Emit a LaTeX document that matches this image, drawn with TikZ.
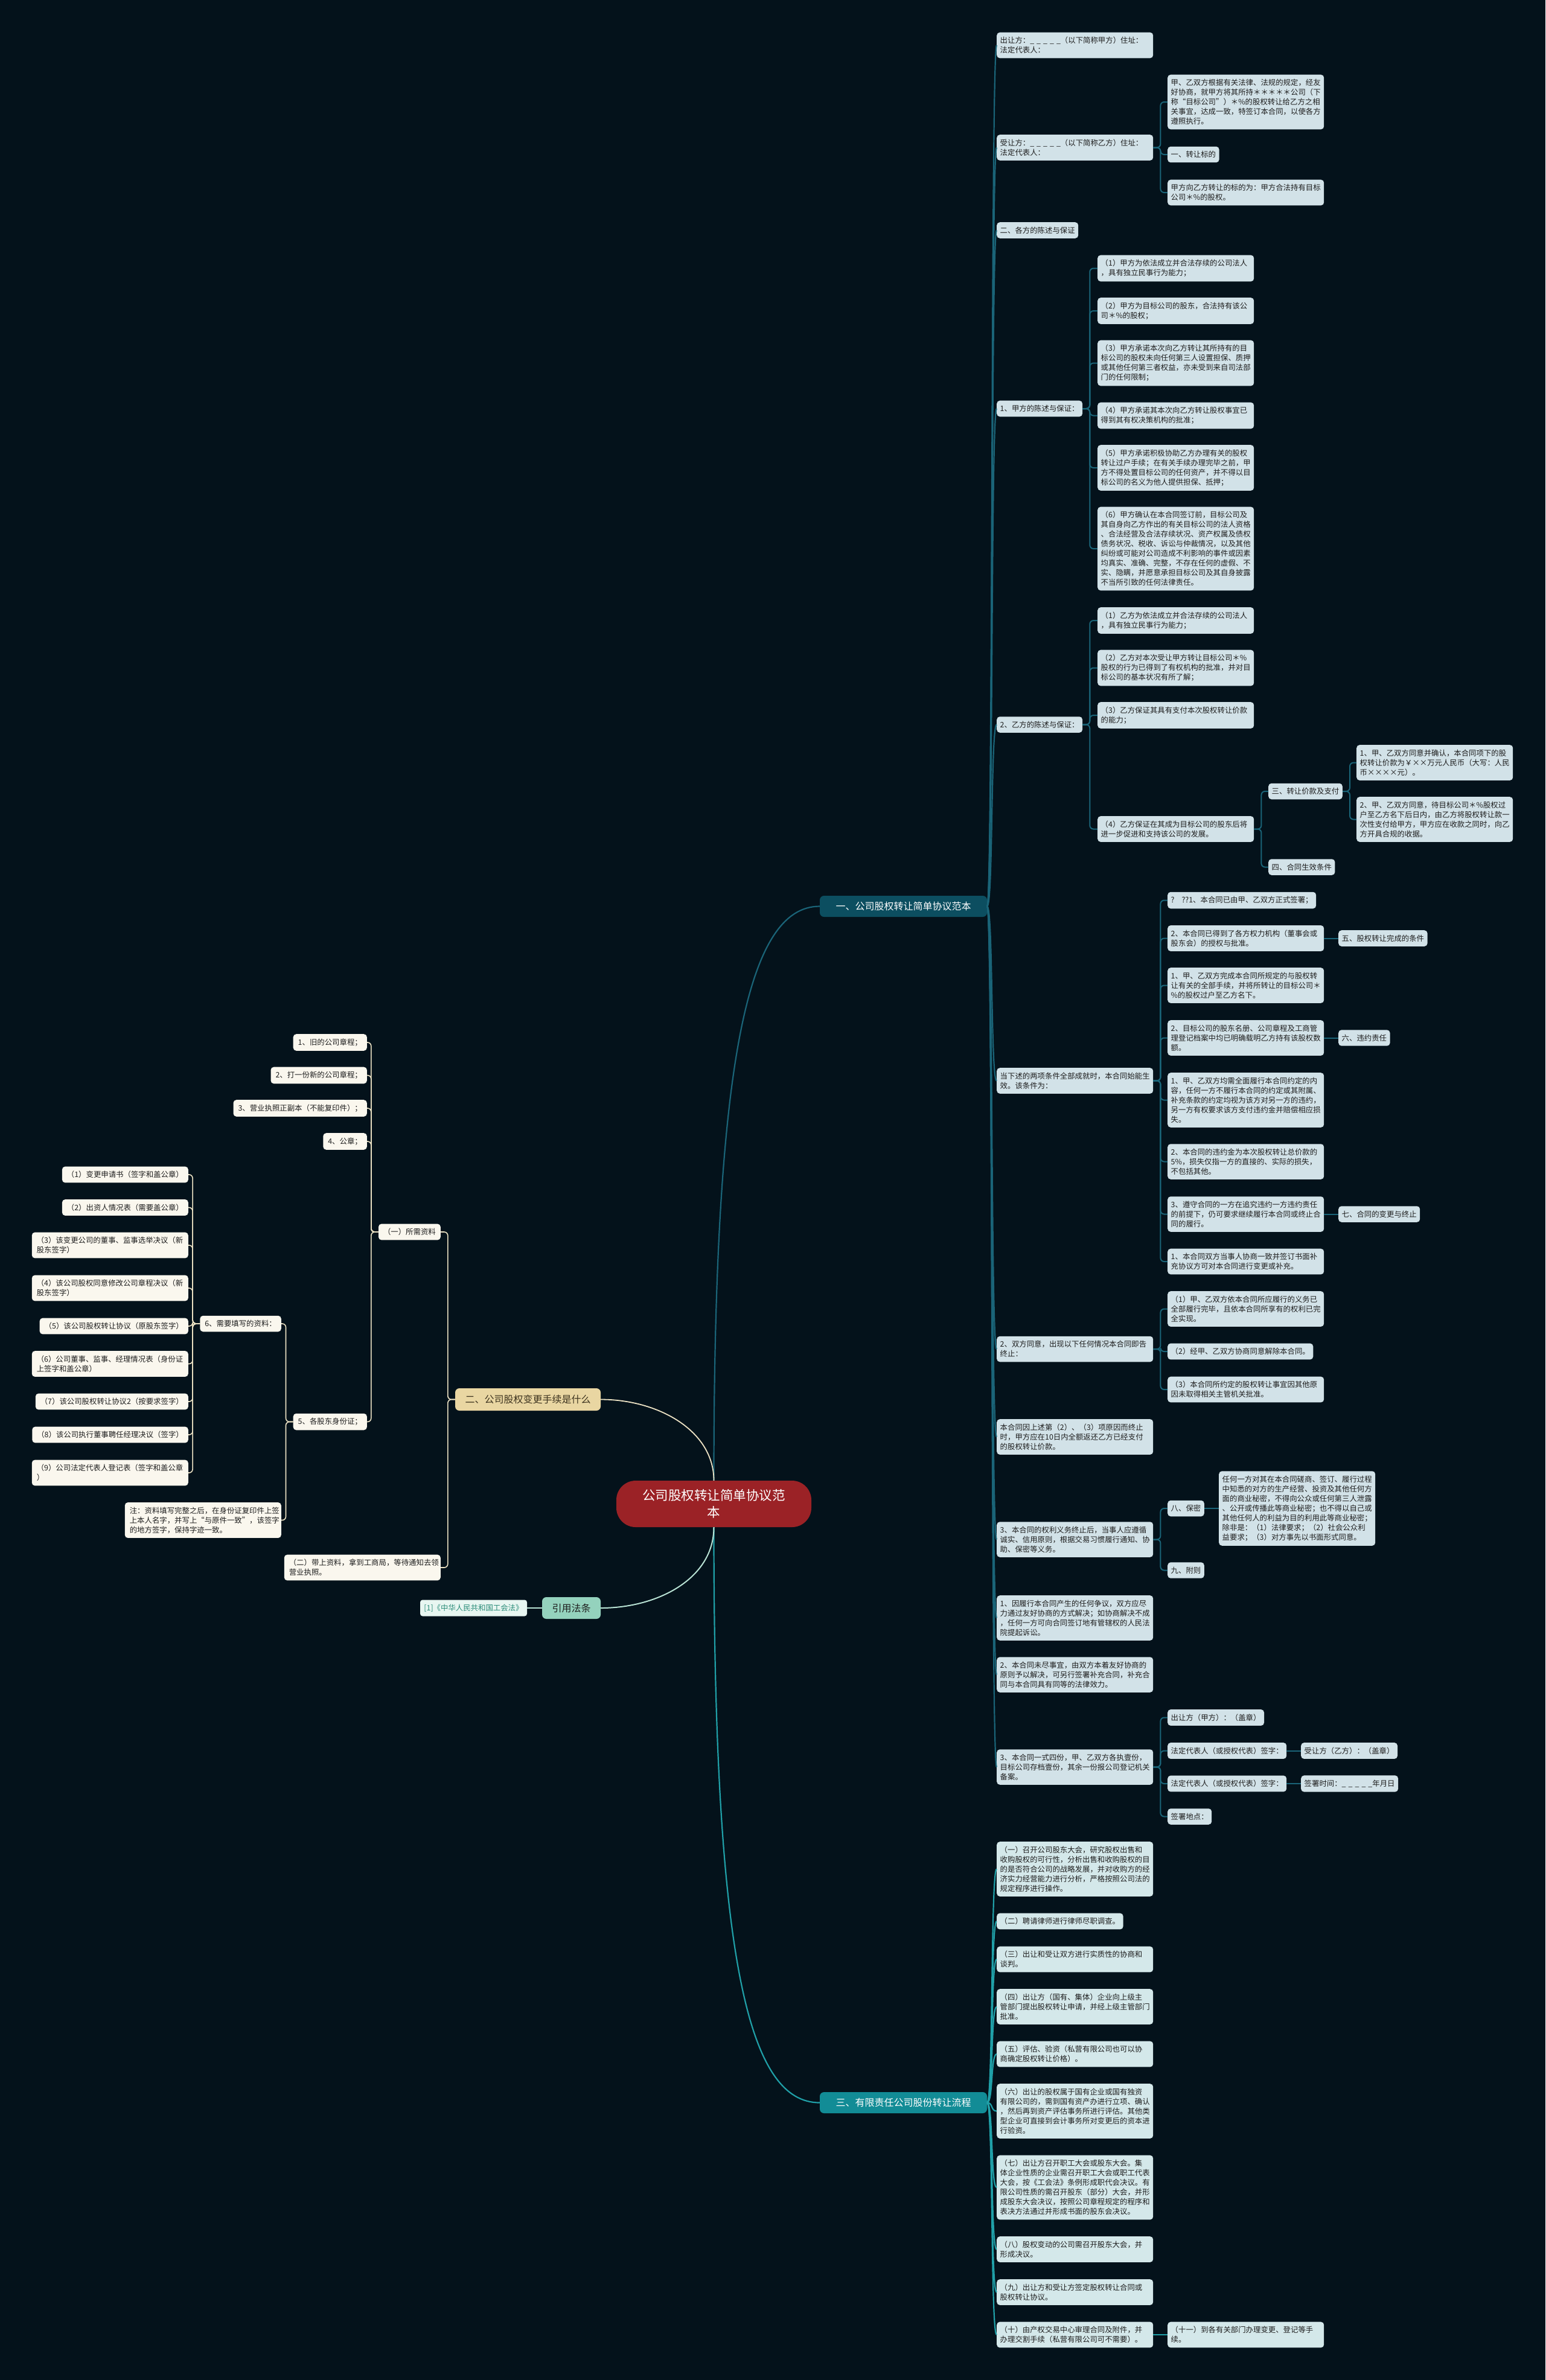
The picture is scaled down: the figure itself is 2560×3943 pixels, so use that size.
\documentclass[tikz,border=0pt]{standalone}
\usepackage{fontspec}
\setmainfont{Noto Sans CJK SC}
\definecolor{bgdark}{RGB}{4,18,27}
\definecolor{tealdark}{RGB}{12,78,96}
\definecolor{tealline}{RGB}{26,100,120}
\definecolor{cyanline}{RGB}{32,160,168}
\definecolor{cyanmain}{RGB}{18,140,150}
\definecolor{boxblue}{RGB}{210,226,232}
\definecolor{boxcyan}{RGB}{212,232,234}
\definecolor{tanmain}{RGB}{233,214,162}
\definecolor{tantext}{RGB}{60,50,30}
\definecolor{creambox}{RGB}{250,247,238}
\definecolor{creamline}{RGB}{236,226,196}
\definecolor{rootred}{RGB}{155,34,38}
\definecolor{mintmain}{RGB}{148,210,189}
\definecolor{mintbox}{RGB}{232,246,241}
\definecolor{mintline}{RGB}{184,226,212}
\definecolor{citetext}{RGB}{42,140,120}
\definecolor{inkdark}{RGB}{30,30,30}
\newcommand{\blank}{\_\kern4pt\_\kern4pt\_\kern4pt\_\kern4pt\_}

\begin{document}
\begin{tikzpicture}[x=1pt,y=-1pt,
  every node/.style={font=\fontsize{12.4}{16}\selectfont,text=inkdark},
  rbox/.style={fill=boxblue,rounded corners=5pt,inner xsep=5.5pt,inner ysep=7.5pt,anchor=west,align=left},
  rwide/.style={rbox,text width=248pt},
  cwide/.style={rbox,fill=boxcyan,text width=248pt},
  cbox/.style={rbox,fill=boxcyan},
  lbox/.style={fill=creambox,rounded corners=5pt,inner xsep=8pt,inner ysep=7.5pt,anchor=east,align=left},
  lwide/.style={lbox,text width=243pt},
  mainbox/.style={rounded corners=7pt,inner sep=0pt,font=\fontsize{16}{20}\selectfont},
  curve1/.style={draw=tealline,line width=2.2pt},
  curve3/.style={draw=cyanline,line width=2.2pt},
  curve2/.style={draw=creamline,line width=1.8pt},
  curve4/.style={draw=mintline,line width=2pt},
  elbow1/.style={draw=tealline,line width=2pt,rounded corners=6pt},
  elbow2/.style={draw=creamline,line width=1.6pt,rounded corners=6pt}]
\useasboundingbox (0,0) rectangle (2560,3943);
\fill[bgdark] (0,0) rectangle (2560,3943);
% centre and main branches
\node[fill=rootred,rounded corners=32pt,minimum width=323pt,minimum height=77pt,align=center,text=white,font=\fontsize{21.5}{28}\selectfont] (root) at (1182.5,2491.5) {公司股权转让简单协议范\\本};
\node[mainbox,fill=tealdark,text=white,minimum width=277pt,minimum height=35pt] (br1) at (1496.5,1501.5) {一、公司股权转让简单协议范本};
\node[mainbox,fill=tanmain,text=tantext,minimum width=241pt,minimum height=37pt] (br2) at (874.5,2318.5) {二、公司股权变更手续是什么};
\node[mainbox,fill=cyanmain,text=white,minimum width=277pt,minimum height=35pt] (br3) at (1496.5,3483.5) {三、有限责任公司股份转让流程};
\node[mainbox,fill=mintmain,text=inkdark,minimum width=97pt,minimum height=36pt] (br4) at (946.5,2664) {引用法条};
\node[fill=mintbox,text=citetext,rounded corners=4pt,minimum width=177pt,minimum height=27pt,inner sep=0pt] (cite) at (784.5,2664) {[1]《中华人民共和国工会法》};

% branch one: contract text
\node[rwide] (u1) at (1651,75) {出让方：\blank（以下简称甲方）住址：\\法定代表人：};
\node[rwide] (u2) at (1651,244.5) {受让方：\blank（以下简称乙方）住址：\\法定代表人：};
\node[rbox] (u3) at (1651,381.5) {二、各方的陈述与保证};
\node[rbox] (u4) at (1651,677) {1、甲方的陈述与保证：};
\node[rbox] (u5) at (1651,1200.5) {2、乙方的陈述与保证：};
\node[rwide] (u6) at (1651,1790.5) {当下述的两项条件全部成就时，本合同始能生\\效。该条件为：};
\node[rwide] (u7) at (1651,2235) {2、双方同意，出现以下任何情况本合同即告\\终止：};
\node[rwide] (u8) at (1651,2380.5) {本合同因上述第（2）、（3）项原因而终止\\时，甲方应在10日内全额返还乙方已经支付\\的股权转让价款。};
\node[rwide] (u9) at (1651,2550.5) {3、本合同的权利义务终止后，当事人应遵循\\诚实、信用原则，根据交易习惯履行通知、协\\助、保密等义务。};
\node[rwide] (u10) at (1651,2680.5) {1、因履行本合同产生的任何争议，双方应尽\\力通过友好协商的方式解决；如协商解决不成\\，任何一方可向合同签订地有管辖权的人民法\\院提起诉讼。};
\node[rwide] (u11) at (1651,2774.5) {2、本合同未尽事宜，由双方本着友好协商的\\原则予以解决，可另行签署补充合同，补充合\\同与本合同具有同等的法律效力。};
\node[rwide] (u12) at (1651,2927.5) {3、本合同一式四份，甲、乙双方各执壹份，\\目标公司存档壹份，其余一份报公司登记机关\\备案。};

\node[rwide] (a1) at (1934,169) {甲、乙双方根据有关法律、法规的规定，经友\\好协商，就甲方将其所持＊＊＊＊＊公司（下\\称“目标公司”）＊\%的股权转让给乙方之相\\关事宜，达成一致，特签订本合同，以使各方\\遵照执行。};
\node[rbox] (a2) at (1934,256) {一、转让标的};
\node[rwide] (a3) at (1934,319) {甲方向乙方转让的标的为：甲方合法持有目标\\公司＊\%的股权。};

\node[rwide] (j1) at (1818,444.5) {（1）甲方为依法成立并合法存续的公司法人\\，具有独立民事行为能力；};
\node[rwide] (j2) at (1818,515) {（2）甲方为目标公司的股东，合法持有该公\\司＊\%的股权；};
\node[rwide] (j3) at (1818,601.5) {（3）甲方承诺本次向乙方转让其所持有的目\\标公司的股权未向任何第三人设置担保、质押\\或其他任何第三者权益，亦未受到来自司法部\\门的任何限制；};
\node[rwide] (j4) at (1818,688.5) {（4）甲方承诺其本次向乙方转让股权事宜已\\得到其有权决策机构的批准；};
\node[rwide] (j5) at (1818,775) {（5）甲方承诺积极协助乙方办理有关的股权\\转让过户手续；在有关手续办理完毕之前，甲\\方不得处置目标公司的任何资产，并不得以目\\标公司的名义为他人提供担保、抵押；};
\node[rwide] (j6) at (1818,909) {（6）甲方确认在本合同签订前，目标公司及\\其自身向乙方作出的有关目标公司的法人资格\\、合法经营及合法存续状况、资产权属及债权\\债务状况、税收、诉讼与仲裁情况，以及其他\\纠纷或可能对公司造成不利影响的事件或因素\\均真实、准确、完整，不存在任何的虚假、不\\实、隐瞒，并愿意承担目标公司及其自身披露\\不当所引致的任何法律责任。};

\node[rwide] (y1) at (1818,1028) {（1）乙方为依法成立并合法存续的公司法人\\，具有独立民事行为能力；};
\node[rwide] (y2) at (1818,1106.5) {（2）乙方对本次受让甲方转让目标公司＊\%\\股权的行为已得到了有权机构的批准，并对目\\标公司的基本状况有所了解；};
\node[rwide] (y3) at (1818,1185) {（3）乙方保证其具有支付本次股权转让价款\\的能力；};
\node[rwide] (y4) at (1818,1373.5) {（4）乙方保证在其成为目标公司的股东后将\\进一步促进和支持该公司的发展。};
\node[rbox] (s3) at (2101,1311) {三、转让价款及支付};
\node[rbox] (s4) at (2101,1436.5) {四、合同生效条件};
\node[rwide] (p1) at (2247,1263.5) {1、甲、乙双方同意并确认，本合同项下的股\\权转让价款为￥××万元人民币（大写：人民\\币××××元）。};
\node[rwide] (p2) at (2247,1357.5) {2、甲、乙双方同意，待目标公司＊\%股权过\\户至乙方名下后日内，由乙方将股权转让款一\\次性支付给甲方，甲方应在收款之同时，向乙\\方开具合规的收据。};

\node[rbox] (e1) at (1934,1491.5) {?\hspace{12pt}??1、本合同已由甲、乙双方正式签署；};
\node[rwide] (e2) at (1934,1554.5) {2、本合同已得到了各方权力机构（董事会或\\股东会）的授权与批准。};
\node[rwide] (e3) at (1934,1632.5) {1、甲、乙双方完成本合同所规定的与股权转\\让有关的全部手续，并将所转让的目标公司＊\\\%的股权过户至乙方名下。};
\node[rwide] (e4) at (1934,1719.5) {2、目标公司的股东名册、公司章程及工商管\\理登记档案中均已明确载明乙方持有该股权数\\额。};
\node[rwide] (e5) at (1934,1822.5) {1、甲、乙双方均需全面履行本合同约定的内\\容，任何一方不履行本合同的约定或其附属、\\补充条款的约定均视为该方对另一方的违约，\\另一方有权要求该方支付违约金并赔偿相应损\\失。};
\node[rwide] (e6) at (1934,1924.5) {2、本合同的违约金为本次股权转让总价款的\\5\%，损失仅指一方的直接的、实际的损失，\\不包括其他。};
\node[rwide] (e7) at (1934,2011.5) {3、遵守合同的一方在追究违约一方违约责任\\的前提下，仍可要求继续履行本合同或终止合\\同的履行。};
\node[rwide] (e8) at (1934,2090) {1、本合同双方当事人协商一致并签订书面补\\充协议方可对本合同进行变更或补充。};
\node[rbox] (h5) at (2217,1554.5) {五、股权转让完成的条件};
\node[rbox] (h6) at (2217,1719.5) {六、违约责任};
\node[rbox] (h7) at (2217,2011.5) {七、合同的变更与终止};

\node[rwide] (t1) at (1934,2168.5) {（1）甲、乙双方依本合同所应履行的义务已\\全部履行完毕，且依本合同所享有的权利已完\\全实现。};
\node[rbox] (t2) at (1934,2239) {（2）经甲、乙双方协商同意解除本合同。};
\node[rwide] (t3) at (1934,2302) {（3）本合同所约定的股权转让事宜因其他原\\因未取得相关主管机关批准。};

\node[rbox] (h8) at (1934,2499) {八、保密};
\node[rwide] (h8t) at (2019,2499) {任何一方对其在本合同磋商、签订、履行过程\\中知悉的对方的生产经营、投资及其他任何方\\面的商业秘密，不得向公众或任何第三人泄露\\、公开或传播此等商业秘密；也不得以自己或\\其他任何人的利益为目的利用此等商业秘密；\\除非是：（1）法律要求；（2）社会公众利\\益要求；（3）对方事先以书面形式同意。};
\node[rbox] (h9) at (1934,2601.5) {九、附则};

\node[rbox] (g1) at (1934,2845.5) {出让方（甲方）：（盖章）};
\node[rbox] (g2) at (1934,2900.5) {法定代表人（或授权代表）签字：};
\node[rbox] (g3) at (1934,2955) {法定代表人（或授权代表）签字：};
\node[rbox] (g4) at (1934,3009.5) {签署地点：};
\node[rbox] (g2b) at (2155,2900.5) {受让方（乙方）：（盖章）};
\node[rbox] (g3b) at (2155,2955) {签署时间：\blank 年月日};

% branch three: procedure
\node[cwide] (f1) at (1651,3096.5) {（一）召开公司股东大会，研究股权出售和\\收购股权的可行性，分析出售和收购股权的目\\的是否符合公司的战略发展，并对收购方的经\\济实力经营能力进行分析，严格按照公司法的\\规定程序进行操作。};
\node[cbox] (f2) at (1651,3183) {（二）聘请律师进行律师尽职调查。};
\node[cwide] (f3) at (1651,3246) {（三）出让和受让双方进行实质性的协商和\\谈判。};
\node[cwide] (f4) at (1651,3324.5) {（四）出让方（国有、集体）企业向上级主\\管部门提出股权转让申请，并经上级主管部门\\批准。};
\node[cwide] (f5) at (1651,3403) {（五）评估、验资（私营有限公司也可以协\\商确定股权转让价格）。};
\node[cwide] (f6) at (1651,3497.5) {（六）出让的股权属于国有企业或国有独资\\有限公司的，需到国有资产办进行立项、确认\\，然后再到资产评估事务所进行评估。其他类\\型企业可直接到会计事务所对变更后的资本进\\行验资。};
\node[cwide] (f7) at (1651,3624) {（七）出让方召开职工大会或股东大会。集\\体企业性质的企业需召开职工大会或职工代表\\大会，按《工会法》条例形成职代会决议。有\\限公司性质的需召开股东（部分）大会，并形\\成股东大会决议，按照公司章程规定的程序和\\表决方法通过并形成书面的股东会决议。};
\node[cwide] (f8) at (1651,3726.5) {（八）股权变动的公司需召开股东大会，并\\形成决议。};
\node[cwide] (f9) at (1651,3797.5) {（九）出让方和受让方签定股权转让合同或\\股权转让协议。};
\node[cwide] (f10) at (1651,3868) {（十）由产权交易中心审理合同及附件，并\\办理交割手续（私营有限公司可不需要）。};
\node[cwide] (f11) at (1934,3868) {（十一）到各有关部门办理变更、登记等手\\续。};

% branch two: registration steps
\node[lbox] (k1) at (730,2041) {（一）所需资料};
\node[lwide] (k2) at (730,2597) {（二）带上资料，拿到工商局，等待通知去领\\营业执照。};
\node[lbox] (m1) at (608,1727) {1、旧的公司章程；};
\node[lbox] (m2) at (608,1781.5) {2、打一份新的公司章程；};
\node[lbox] (m3) at (608,1836) {3、营业执照正副本（不能复印件）；};
\node[lbox] (m4) at (608,1891) {4、公章；};
\node[lbox] (m5) at (608,2355.5) {5、各股东身份证；};
\node[lbox] (n1) at (466,2193) {6、需要填写的资料：};
\node[lwide] (n2) at (466,2518.5) {注：资料填写完整之后，在身份证复印件上签\\上本人名字，并写上“与原件一致”，该签字\\的地方签字，保持字迹一致。};
\node[lbox] (q1) at (312,1946) {（1）变更申请书（签字和盖公章）};
\node[lbox] (q2) at (312,2000.5) {（2）出资人情况表（需要盖公章）};
\node[lwide] (q3) at (312,2063) {（3）该变更公司的董事、监事选举决议（新\\股东签字）};
\node[lwide] (q4) at (312,2134) {（4）该公司股权同意修改公司章程决议（新\\股东签字）};
\node[lbox] (q5) at (312,2197) {（5）该公司股权转让协议（原股东签字）};
\node[lwide] (q6) at (312,2259.5) {（6）公司董事、监事、经理情况表（身份证\\上签字和盖公章）};
\node[lbox] (q7) at (312,2322) {（7）该公司股权转让协议2（按要求签字）};
\node[lbox] (q8) at (312,2377) {（8）该公司执行董事聘任经理决议（签字）};
\node[lwide] (q9) at (312,2440) {（9）公司法定代表人登记表（签字和盖公章\\）};

% connectors
\draw[curve1] (root.north) .. controls (1182.5,1750) and (1240,1501.5) .. (br1.west);
\draw[curve3] (root.south) .. controls (1182.5,3250) and (1240,3483.5) .. (br3.west);
\draw[curve2] (root.north) .. controls (1182.5,2370) and (1090,2318.5) .. (br2.east);
\draw[curve4] (root.south) .. controls (1182.5,2615) and (1090,2664) .. (br4.east);
\draw[curve4] (br4.west) -- (cite.east);
\foreach \i in {1,...,12} {\draw[curve1] (br1.east) .. controls +(10,0) and +(-10,0) .. (u\i.west);}
\foreach \i in {1,...,10} {\draw[curve3] (br3.east) .. controls +(10,0) and +(-10,0) .. (f\i.west);}
\foreach \p/\c in {u2/a1,u2/a2,u2/a3,u4/j1,u4/j2,u4/j3,u4/j4,u4/j5,u4/j6,u5/y1,u5/y2,u5/y3,u5/y4,y4/s3,y4/s4,s3/p1,s3/p2,
  u6/e1,u6/e2,u6/e3,u6/e4,u6/e5,u6/e6,u6/e7,u6/e8,u7/t1,u7/t2,u7/t3,u9/h8,u9/h9,u12/g1,u12/g2,u12/g3,u12/g4}
  {\draw[elbow1] (\p.east) -- ++(12,0) |- (\c.west);}
\foreach \p/\c in {e2/h5,e4/h6,e7/h7,h8/h8t,g2/g2b,g3/g3b} {\draw[elbow1] (\p.east) -- (\c.west);}
\draw[curve3] (f10.east) -- (f11.west);
\foreach \p/\c in {br2/k1,br2/k2,k1/m1,k1/m2,k1/m3,k1/m4,k1/m5,m5/n1,m5/n2,n1/q1,n1/q2,n1/q3,n1/q4,n1/q5,n1/q6,n1/q7,n1/q8,n1/q9}
  {\draw[elbow2] (\p.west) -- ++(-12,0) |- (\c.east);}
\end{tikzpicture}
\end{document}
